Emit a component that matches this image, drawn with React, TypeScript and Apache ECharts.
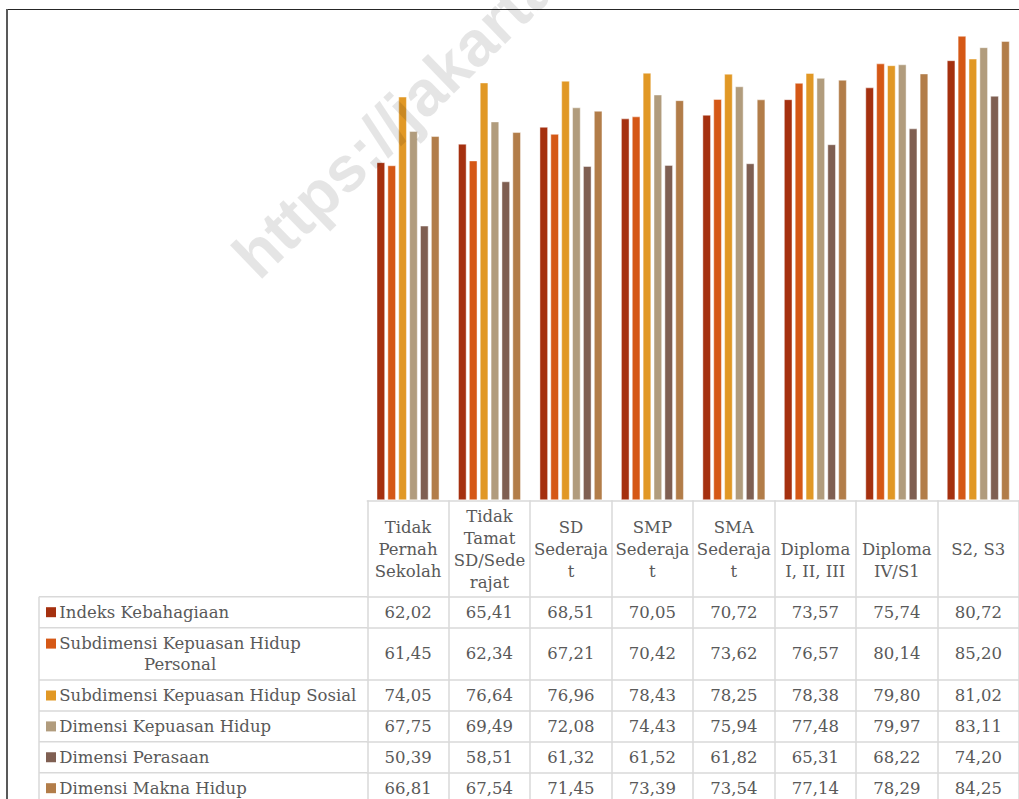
import React, { useEffect, useRef } from 'react';
import * as echarts from 'echarts';

// ---------- data ----------
const categories = [
  'Tidak Pernah Sekolah',
  'Tidak Tamat SD/Sederajat',
  'SD Sederajat',
  'SMP Sederajat',
  'SMA Sederajat',
  'Diploma I, II, III',
  'Diploma IV/S1',
  'S2, S3',
];
// header labels as wrapped in the table
const categoryLabels = [
  'Tidak\nPernah\nSekolah',
  'Tidak\nTamat\nSD/Sede\nrajat',
  'SD\nSederaja\nt',
  'SMP\nSederaja\nt',
  'SMA\nSederaja\nt',
  'Diploma\nI, II, III',
  'Diploma\nIV/S1',
  'S2, S3',
];
const seriesNames = [
  'Indeks Kebahagiaan',
  'Subdimensi Kepuasan Hidup Personal',
  'Subdimensi Kepuasan Hidup Sosial',
  'Dimensi Kepuasan Hidup',
  'Dimensi Perasaan',
  'Dimensi Makna Hidup',
];
const legendLabels = [
  'Indeks Kebahagiaan',
  'Subdimensi Kepuasan Hidup\nPersonal',
  'Subdimensi Kepuasan Hidup Sosial',
  'Dimensi Kepuasan Hidup',
  'Dimensi Perasaan',
  'Dimensi Makna Hidup',
];
const indeksKebahagiaan = [62.02, 65.41, 68.51, 70.05, 70.72, 73.57, 75.74, 80.72];
const kepuasanPersonal = [61.45, 62.34, 67.21, 70.42, 73.62, 76.57, 80.14, 85.2];
const kepuasanSosial = [74.05, 76.64, 76.96, 78.43, 78.25, 78.38, 79.8, 81.02];
const kepuasanHidup = [67.75, 69.49, 72.08, 74.43, 75.94, 77.48, 79.97, 83.11];
const perasaan = [50.39, 58.51, 61.32, 61.52, 61.82, 65.31, 68.22, 74.2];
const maknaHidup = [66.81, 67.54, 71.45, 73.39, 73.54, 77.14, 78.29, 84.25];
const seriesValues = [indeksKebahagiaan, kepuasanPersonal, kepuasanSosial, kepuasanHidup, perasaan, maknaHidup];
const yMin = 0;
const yMax = 90;
const watermarkText = 'https://jakarta.bps.go.id';

// ---------- style / layout ----------
const W = 1019;
const H = 799;
const seriesColors = ['#A5300F', '#D55816', '#E19825', '#B19C7D', '#7F5F52', '#B27D49'];
const GRID_LEFT = 367.3;
const CAT_W = 81.7;
const PLOT_TOP = 9.6;
const PLOT_BOTTOM = 500.3;
const HEADER_H = 96.4;
const ROW_H = [31, 52.3, 31, 30.8, 30.9, 31];
const TABLE_LEFT = 39;
const FONT = 'DejaVu Serif';
const FS = 16.5;
const TEXT_COLOR = '#595959';
const GRID_COLOR = '#d9d9d9';
const GRID_LW = 1.5;

const fmt = (v: number) => v.toFixed(2).replace('.', ',');

const measure = (text: string, font: string) => {
  const ctx = document.createElement('canvas').getContext('2d');
  if (!ctx) return text.length * 9;
  ctx.font = font;
  return ctx.measureText(text).width;
};

export default function App() {
  const ref = useRef<HTMLDivElement>(null);

  useEffect(() => {
    if (!ref.current) return;
    const chart = echarts.init(ref.current, undefined, { renderer: 'svg', width: W, height: H });

    // row top offsets below the plot bottom
    const rowOffsets: number[] = [];
    let acc = HEADER_H;
    for (let i = 0; i < ROW_H.length; i++) {
      rowOffsets.push(acc);
      acc += ROW_H[i];
    }

    const labelBase = {
      fontFamily: FONT,
      fontSize: FS,
      color: TEXT_COLOR,
      interval: 0,
      hideOverlap: false,
      verticalAlign: 'middle' as const,
      align: 'center' as const,
    };
    const lineStyle = { color: GRID_COLOR, width: GRID_LW };

    const xAxes: any[] = [
      {
        type: 'category',
        data: categories,
        gridIndex: 0,
        position: 'bottom',
        axisLine: { show: true, lineStyle },
        axisTick: { show: true, length: HEADER_H, lineStyle },
        axisLabel: {
          ...labelBase,
          lineHeight: 22,
          margin: 48.7,
          // two-line labels start on the middle line, as in the source table
          formatter: (_v: string, i: number) => {
            const s = categoryLabels[i];
            return s.split('\n').length === 2 ? '\n' + s : s;
          },
        },
      },
    ];
    seriesValues.forEach((vals, r) => {
      xAxes.push({
        type: 'category',
        data: categories,
        gridIndex: 0,
        position: 'bottom',
        offset: rowOffsets[r],
        axisLine: { show: true, lineStyle },
        axisTick: { show: true, length: ROW_H[r], lineStyle },
        axisLabel: {
          ...labelBase,
          margin: ROW_H[r] / 2,
          formatter: (_v: string, i: number) => fmt(vals[i]),
        },
      });
    });

    const font = `${FS}px "${FONT}"`;
    const graphics: any[] = [];
    // chart frame
    graphics.push({ type: 'line', shape: { x1: 6, y1: 9.5, x2: W, y2: 9.5 }, style: { stroke: '#262626', lineWidth: 1 }, silent: true });
    graphics.push({ type: 'line', shape: { x1: 7, y1: 9, x2: 7, y2: H }, style: { stroke: '#595959', lineWidth: 2 }, silent: true });
    // legend column of the data table
    const tableTop = PLOT_BOTTOM + HEADER_H;
    graphics.push({ type: 'line', shape: { x1: TABLE_LEFT, y1: tableTop, x2: TABLE_LEFT, y2: H + 10 }, style: { stroke: GRID_COLOR, lineWidth: GRID_LW }, silent: true });
    legendLabels.forEach((lab, r) => {
      const top = PLOT_BOTTOM + rowOffsets[r];
      graphics.push({ type: 'line', shape: { x1: TABLE_LEFT, y1: top, x2: GRID_LEFT, y2: top }, style: { stroke: GRID_COLOR, lineWidth: GRID_LW }, silent: true });
      const lines = lab.split('\n');
      const lh = 20.5;
      const center = top + ROW_H[r] / 2;
      const firstCenter = center - ((lines.length - 1) * lh) / 2;
      graphics.push({ type: 'rect', shape: { x: 46, y: firstCenter - 5, width: 10, height: 10 }, style: { fill: seriesColors[r] }, silent: true });
      const textX = 59.3;
      if (lines.length === 1) {
        graphics.push({ type: 'text', x: textX, y: center, style: { text: lab, font, fill: TEXT_COLOR, textAlign: 'left', textVerticalAlign: 'middle' }, silent: true });
      } else {
        const w = measure(lines[0], font);
        graphics.push({ type: 'text', x: textX + w / 2, y: center, style: { text: lab, font, fill: TEXT_COLOR, textAlign: 'center', textVerticalAlign: 'middle', lineHeight: lh }, silent: true });
      }
    });
    // watermark
    graphics.push({
      type: 'text',
      x: 266,
      y: 289,
      rotation: (44 * Math.PI) / 180,
      z: 100,
      silent: true,
      style: {
        text: watermarkText,
        font: 'bold 64px "Liberation Sans", Arial, sans-serif',
        fill: 'rgba(0,0,0,0.1)',
        textAlign: 'left',
        textVerticalAlign: 'bottom',
      },
    });

    chart.setOption({
      animation: false,
      backgroundColor: '#ffffff',
      grid: {
        left: GRID_LEFT,
        top: PLOT_TOP,
        width: CAT_W * categories.length,
        height: PLOT_BOTTOM - PLOT_TOP,
        containLabel: false,
      },
      xAxis: xAxes,
      yAxis: { type: 'value', min: yMin, max: yMax, show: false, splitLine: { show: false } },
      series: seriesValues.map((vals, r) => ({
        name: seriesNames[r],
        type: 'bar',
        xAxisIndex: 0,
        data: vals,
        barGap: '25%',
        barCategoryGap: '22.6%',
        itemStyle: { color: seriesColors[r], borderColor: 'rgba(255,255,255,0.45)', borderWidth: 1 },
      })),
      graphic: graphics,
    });

    return () => chart.dispose();
  }, []);

  return (
    <div
      ref={ref}
      style={{ position: 'fixed', left: 0, top: 0, width: W, height: H, background: '#fff', overflow: 'hidden' }}
    />
  );
}
